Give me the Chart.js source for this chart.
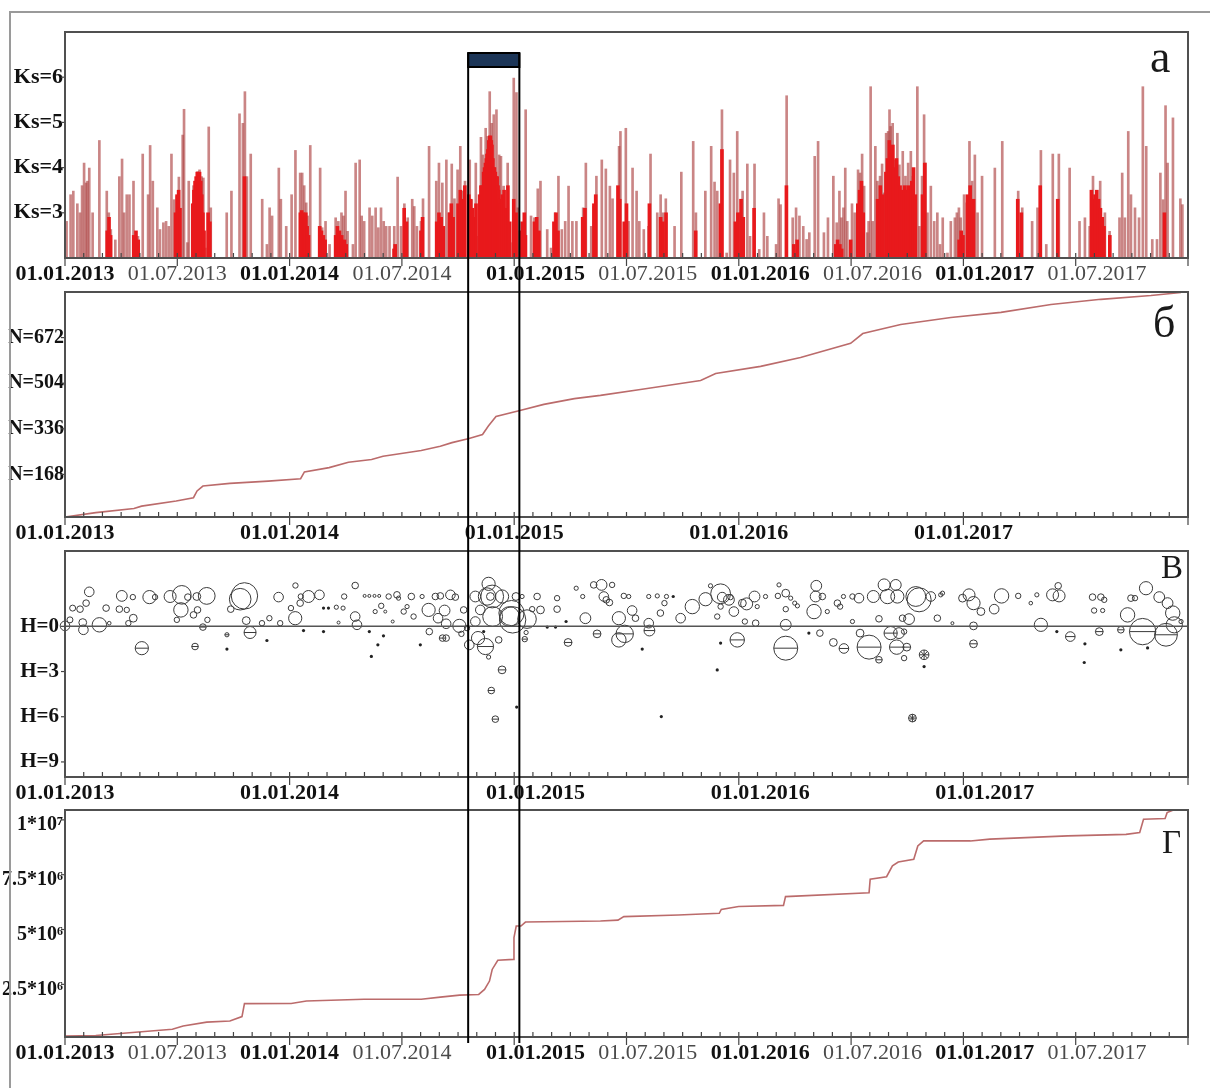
<!DOCTYPE html>
<html><head><meta charset="utf-8">
<script src="https://cdn.jsdelivr.net/npm/chart.js@4.4.1/dist/chart.umd.min.js"></script>
<style>
html,body{margin:0;padding:0;background:#fff;width:1210px;height:1088px;overflow:hidden;position:relative;}
canvas{position:absolute;left:0;display:block;}
#frame{position:absolute;left:9px;top:11px;width:1300px;height:1200px;border-left:2px solid #9a9a9a;border-top:2px solid #9a9a9a;pointer-events:none;}
</style></head><body>
<canvas id="cA" width="1210" height="290" style="top:0px"></canvas>
<canvas id="cB" width="1210" height="258" style="top:290px"></canvas>
<canvas id="cC" width="1210" height="258" style="top:548px"></canvas>
<canvas id="cD" width="1210" height="282" style="top:806px"></canvas>
<div id="frame"></div>
<script>
// ---------------- DATA ----------------
const X_MIN = 2013, X_MAX = 2018;
const yearsJan  = [2013, 2014, 2015, 2016, 2017];
const janLabels = ['01.01.2013','01.01.2014','01.01.2015','01.01.2016','01.01.2017'];
const julLabels = ['01.07.2013','01.07.2014','01.07.2015','01.07.2016','01.07.2017'];
const windowYears = [2014.795, 2015.023];   // highlighted interval

// panel a: energy class Ks of events [year, Ks]
const ksEvents = [
[2013.007,2.81],[2013.025,3.40],[2013.037,3.48],[2013.055,3.20],[2013.067,3.00],[2013.076,3.60],[2013.085,4.10],[2013.094,3.66],[2013.100,3.70],[2013.108,3.99],[2013.123,3.00],[2013.153,4.60],[2013.186,3.48],[2013.195,3.00],[2013.204,2.63],[2013.224,2.40],[2013.242,3.80],[2013.254,4.19],[2013.263,3.00],[2013.275,3.40],[2013.287,3.40],[2013.305,3.70],[2013.313,2.48],[2013.325,2.48],[2013.346,4.30],[2013.370,3.40],[2013.379,4.49],[2013.391,3.70],[2013.411,3.11],[2013.423,2.63],[2013.438,2.78],[2013.450,2.81],[2013.462,2.70],[2013.474,4.30],[2013.486,3.29],[2013.498,3.36],[2013.507,3.79],[2013.524,4.72],[2013.530,5.29],[2013.545,2.34],[2013.551,3.70],[2013.572,3.60],[2013.581,3.70],[2013.590,3.91],[2013.599,3.95],[2013.608,3.80],[2013.616,3.77],[2013.625,2.22],[2013.640,4.90],[2013.649,3.11],[2013.720,3.00],[2013.741,3.48],[2013.777,5.19],[2013.792,4.98],[2013.801,5.68],[2013.810,3.80],[2013.827,4.30],[2013.878,3.30],[2013.899,2.30],[2013.911,3.11],[2013.922,2.93],[2013.952,3.99],[2013.961,3.30],[2013.985,2.70],[2014.009,3.40],[2014.026,4.38],[2014.047,3.88],[2014.056,3.88],[2014.065,3.60],[2014.074,3.22],[2014.080,2.93],[2014.092,4.49],[2014.136,3.99],[2014.145,2.67],[2014.160,2.81],[2014.178,2.30],[2014.205,2.89],[2014.217,2.81],[2014.231,3.00],[2014.240,2.93],[2014.249,3.48],[2014.258,2.59],[2014.282,2.30],[2014.294,4.10],[2014.312,4.17],[2014.321,2.93],[2014.332,2.81],[2014.356,3.11],[2014.368,2.93],[2014.383,3.11],[2014.395,2.67],[2014.407,3.11],[2014.419,2.81],[2014.430,2.70],[2014.445,2.70],[2014.466,2.70],[2014.481,3.79],[2014.496,2.70],[2014.511,3.20],[2014.526,2.89],[2014.546,3.30],[2014.555,3.14],[2014.567,2.70],
[2014.585,2.81],[2014.594,3.31],[2014.621,4.47],[2014.653,3.70],[2014.665,4.10],[2014.680,3.66],[2014.698,4.17],[2014.710,3.00],[2014.722,4.08],[2014.734,3.31],[2014.748,3.95],[2014.760,4.47],[2014.772,3.48],[2014.781,3.70],[2014.802,4.17],[2014.811,3.29],[2014.829,4.10],[2014.840,2.48],[2014.852,4.67],[2014.861,4.28],[2014.873,4.87],[2014.882,4.69],[2014.891,5.68],[2014.900,4.98],[2014.909,5.17],[2014.921,5.28],[2014.933,4.28],[2014.941,4.25],[2014.953,3.59],[2014.971,4.10],[2014.983,2.34],[2014.998,5.98],[2015.010,5.66],[2015.016,3.11],[2015.037,2.70],[2015.051,5.28],[2015.075,2.93],[2015.090,2.89],[2015.105,3.53],[2015.117,3.70],[2015.147,2.63],[2015.164,2.22],[2015.182,3.00],[2015.197,3.81],[2015.212,2.63],[2015.227,2.81],[2015.242,3.59],[2015.259,2.81],[2015.277,2.81],[2015.307,3.11],[2015.319,4.10],[2015.343,2.70],[2015.354,3.14],[2015.366,3.81],[2015.390,4.17],[2015.408,3.97],[2015.426,3.59],[2015.438,3.31],[2015.467,4.47],[2015.473,4.80],[2015.497,4.87],[2015.509,2.81],[2015.527,3.99],[2015.545,3.48],[2015.557,2.81],[2015.577,2.63],[2015.598,2.70],[2015.607,4.30],[2015.637,3.00],[2015.652,3.40],[2015.663,3.00],[2015.675,3.31],[2015.714,2.70],[2015.744,3.90],[2015.797,4.58],[2015.809,3.00],[2015.851,3.48],[2015.877,4.47],[2015.892,3.68],[2015.904,3.48],[2015.925,5.28],[2015.946,2.11],[2015.961,4.17],[2015.978,3.88],[2015.993,4.80],[2016.005,3.00],[2016.017,3.48],[2016.038,4.08],[2016.050,2.48],[2016.070,4.08],[2016.091,2.19],[2016.112,3.00],[2016.127,2.48],[2016.166,2.30],[2016.177,3.31],[2016.186,3.18],[2016.213,5.59],[2016.240,2.89],[2016.255,3.11],[2016.270,2.93],[2016.287,2.70],[2016.302,2.41],[2016.314,2.56],[2016.338,4.25],[2016.353,4.58],
[2016.379,2.56],[2016.397,2.89],[2016.421,3.81],[2016.436,2.78],[2016.448,3.48],[2016.457,2.89],[2016.466,3.11],[2016.474,3.99],[2016.483,2.81],[2016.504,3.20],[2016.516,3.00],[2016.531,3.95],[2016.540,3.88],[2016.549,4.30],[2016.558,3.59],[2016.572,2.56],[2016.578,2.81],[2016.587,5.79],[2016.596,2.81],[2016.608,4.47],[2016.617,3.70],[2016.629,3.81],[2016.638,4.08],[2016.647,3.44],[2016.656,4.76],[2016.665,4.80],[2016.671,5.28],[2016.676,4.91],[2016.685,4.98],[2016.694,4.17],[2016.706,4.76],[2016.715,4.06],[2016.730,4.36],[2016.742,3.81],[2016.754,4.10],[2016.766,4.36],[2016.775,3.81],[2016.786,3.00],[2016.795,5.79],[2016.804,2.70],[2016.816,3.81],[2016.825,5.17],[2016.831,4.10],[2016.840,3.00],[2016.855,3.59],[2016.870,2.81],[2016.884,3.00],[2016.896,2.30],[2016.908,2.89],[2016.929,2.11],[2016.944,2.81],[2016.962,2.89],[2016.971,3.00],[2016.980,3.11],[2016.988,2.89],[2017.003,3.40],[2017.015,3.22],[2017.027,4.58],[2017.039,3.70],[2017.051,4.28],[2017.063,3.00],[2017.083,3.81],[2017.140,3.99],[2017.173,4.58],[2017.244,3.48],[2017.262,3.11],[2017.306,2.81],[2017.330,3.11],[2017.345,4.38],[2017.369,2.30],[2017.398,4.30],[2017.425,4.30],[2017.473,3.99],[2017.517,2.81],[2017.541,2.89],[2017.562,2.70],[2017.577,3.81],[2017.592,3.31],[2017.609,3.70],[2017.630,3.00],[2017.651,2.59],[2017.695,2.89],[2017.707,3.88],[2017.719,2.89],[2017.734,4.80],[2017.746,3.40],[2017.764,3.11],[2017.782,2.89],[2017.799,5.79],[2017.814,4.47],[2017.841,2.41],[2017.862,2.41],[2017.877,3.88],[2017.889,3.29],[2017.900,5.37],[2017.909,4.10],[2017.933,5.10],[2017.966,3.31],[2017.975,3.18]
];
// panel a: dense swarm events (bright red mass) [year, Ks]
const swarmEvents = [
[2013.188,2.6],[2013.196,2.9],[2013.203,2.5],[2013.306,2.5],[2013.316,2.6],[2013.326,2.4],[2013.492,3.0],[2013.499,3.4],[2013.506,3.5],[2013.512,3.1],
[2013.569,3.2],[2013.574,3.5],[2013.579,3.7],[2013.584,3.8],[2013.589,3.9],[2013.594,3.8],[2013.599,3.9],[2013.604,3.7],[2013.609,3.4],[2013.614,3.0],[2013.619,2.6],
[2013.637,3.0],[2013.645,2.8],[2013.799,3.8],
[2014.048,3.0],[2014.054,3.05],[2014.060,3.0],[2014.066,2.9],[2014.072,3.0],[2014.078,2.7],[2014.084,2.5],
[2014.134,2.7],[2014.142,2.6],[2014.150,2.5],[2014.158,2.4],
[2014.205,2.5],[2014.213,2.7],[2014.222,2.6],[2014.232,2.5],[2014.244,2.4],[2014.252,2.3],
[2014.465,2.2],[2014.470,2.3],[2014.510,3.1],[2014.520,2.8],
[2014.585,2.6],[2014.592,2.9],[2014.655,2.8],[2014.665,3.0],[2014.675,2.9],[2014.684,2.7],[2014.712,3.0],[2014.720,3.2],[2014.728,2.9],[2014.750,3.2],[2014.760,3.5],[2014.770,3.3],[2014.780,3.6],
[2014.798,3.4],[2014.806,3.3],[2014.814,3.1],[2014.822,2.9],[2014.830,3.2],
[2014.846,3.4],[2014.852,3.6],[2014.857,3.6],[2014.864,3.9],[2014.868,4.0],[2014.872,4.1],[2014.876,4.2],[2014.879,4.3],[2014.883,4.4],[2014.887,4.6],[2014.891,4.7],[2014.894,4.7],[2014.898,4.6],[2014.901,4.5],[2014.905,4.2],[2014.909,4.0],[2014.912,4.0],[2014.916,3.9],[2014.920,3.8],[2014.924,3.8],[2014.928,3.6],[2014.931,3.5],[2014.935,3.3],[2014.939,3.2],
[2014.947,3.4],[2014.955,3.5],[2014.963,3.1],[2014.972,3.6],[2014.980,2.8],[2014.998,3.3],[2015.008,3.0],
[2015.028,2.6],[2015.036,2.8],[2015.045,3.0],[2015.050,2.5],[2015.090,2.8],[2015.100,2.9],[2015.110,2.6],[2015.177,2.8],[2015.186,3.0],[2015.195,2.6],[2015.305,2.9],[2015.315,3.1],[2015.355,3.2],[2015.363,3.4],
[2015.462,3.6],[2015.470,3.3],[2015.490,2.8],[2015.500,3.2],[2015.602,3.2],[2015.652,2.9],[2015.662,2.8],[2015.676,3.0],[2015.808,2.6],[2015.918,3.2],[2015.925,4.4],[2015.985,2.8],[2015.996,3.0],[2016.010,3.3],[2016.020,2.9],[2016.068,3.1],[2016.212,3.6],[2016.245,2.3],[2016.260,2.4],
[2016.432,2.3],[2016.440,2.4],[2016.450,2.3],[2016.458,2.2],[2016.498,2.4],[2016.530,3.2],[2016.538,3.5],[2016.546,3.7],[2016.554,3.0],[2016.618,3.3],[2016.630,3.6],[2016.640,3.4],
[2016.655,3.9],[2016.662,4.2],[2016.670,4.6],[2016.678,4.3],[2016.686,4.5],[2016.694,4.0],[2016.702,4.2],[2016.710,3.8],[2016.718,3.6],
[2016.730,3.5],[2016.738,3.6],[2016.746,3.5],[2016.754,3.6],[2016.762,3.5],[2016.770,3.7],[2016.778,4.0],[2016.786,3.4],[2016.818,3.4],[2016.828,4.1],
[2016.981,2.4],[2016.990,2.6],[2016.998,2.5],[2017.018,3.4],[2017.030,3.6],[2017.045,3.3],[2017.242,3.3],[2017.258,3.0],[2017.342,3.6],[2017.420,3.3],
[2017.570,3.5],[2017.578,3.3],[2017.586,3.4],[2017.594,3.5],[2017.602,3.3],[2017.610,3.1],[2017.618,2.9],[2017.626,2.7],[2017.652,2.5],[2017.895,3.0]
];
const ksTicks = [3, 4, 5, 6];
const ksTickLabels = ['Ks=3','Ks=4','Ks=5','Ks=6'];

// panel б: cumulative number of events [year, N]
const cumCount = [
[2013.000,11],[2013.137,27],[2013.307,42],[2013.341,51],[2013.495,70],[2013.572,82],[2013.588,107],[2013.614,125],[2013.734,135],[2013.905,143],[2014.049,152],[2014.066,177],[2014.176,193],[2014.262,213],[2014.365,223],[2014.416,235],[2014.586,256],[2014.671,272],[2014.723,285],[2014.799,300],[2014.859,315],[2014.885,346],[2014.919,381],[2015.030,404],[2015.132,426],[2015.268,447],[2015.384,459],[2015.562,481],[2015.830,514],[2015.897,540],[2016.097,566],[2016.275,599],[2016.498,651],[2016.552,687],[2016.721,720],[2016.944,746],[2017.167,765],[2017.390,794],[2017.612,813],[2017.835,827],[2017.969,838]
];
const nTicks = [168, 336, 504, 672];
const nTickLabels = ['N=168','N=336','N=504','N=672'];

// panel в: hypocentre depth H and energy class K: [year, H, K]
const openCircles = [
[2013.000,-0.03,3.6],[2013.022,-0.43,3.0],[2013.034,-1.21,3.0],[2013.067,-1.14,3.1],[2013.079,-0.25,3.3],[2013.082,0.23,3.6],[2013.094,-1.54,3.1],[2013.108,-2.29,3.6],[2013.153,-0.10,4.4],[2013.183,-1.21,3.1],[2013.197,-0.21,2.6],[2013.242,-1.14,3.1],[2013.253,-2.02,3.8],[2013.275,-1.09,2.9],[2013.282,-0.21,2.9],[2013.302,-1.94,2.9],[2013.304,-0.54,3.3],[2013.376,-1.94,4.2],[2013.401,-1.94,2.9],[2013.468,-1.98,4.0],[2013.498,-0.43,2.9],[2013.520,-2.09,5.1],[2013.516,-1.09,4.4],[2013.547,-1.94,3.1],[2013.572,-0.76,3.1],[2013.587,-1.98,3.3],[2013.590,-1.09,3.1],[2013.631,-2.02,4.8],[2013.634,-0.43,2.9],[2013.738,-1.14,3.1],[2013.799,-2.02,6.4],[2013.780,-1.80,5.6],[2013.807,-0.38,3.3],[2013.877,-0.21,2.9],[2013.910,-0.54,2.9],[2013.951,-1.94,3.6],[2013.958,-0.21,2.9],[2014.006,-1.21,2.9],[2014.025,-0.54,4.2],[2014.026,-2.71,2.9],[2014.047,-1.54,3.1],[2014.050,-1.98,2.9],[2014.084,-1.98,4.0],[2014.133,-2.09,3.6],[2014.208,-1.27,2.7],[2014.218,-0.25,2.5],[2014.238,-1.21,2.7],[2014.243,-1.98,2.9],[2014.292,-2.71,3.1],[2014.292,-0.65,3.6],[2014.300,-0.10,3.6],
[2014.334,-2.02,2.5],[2014.355,-2.02,2.5],[2014.378,-2.02,2.5],[2014.399,-2.02,2.5],[2014.381,-0.98,2.7],[2014.408,-1.36,2.9],[2014.426,-0.98,2.5],[2014.441,-1.98,2.9],[2014.459,-0.32,2.5],[2014.478,-2.09,3.1],[2014.485,-1.87,2.7],[2014.508,-0.98,2.9],[2014.523,-1.31,2.7],[2014.542,-1.98,3.1],[2014.552,-0.65,2.9],[2014.590,-1.98,2.7],[2014.619,-1.09,4.2],[2014.622,0.35,3.1],[2014.649,-1.98,3.1],[2014.661,-0.54,3.6],[2014.671,-2.02,3.1],[2014.690,-1.05,3.8],[2014.697,-0.17,3.6],[2014.697,0.78,3.1],[2014.716,-2.09,3.6],[2014.738,-1.94,3.1],[2014.756,-0.03,4.2],[2014.765,0.50,2.9],[2014.775,-1.09,3.1],[2014.790,0.12,2.9],[2014.800,1.23,3.6],[2014.827,-1.98,3.8],[2014.827,-0.32,3.6],[2014.839,0.78,4.2],[2014.849,-1.09,3.6],[2014.879,-1.98,4.9],[2014.886,-2.82,4.2],[2014.894,-1.98,3.3],[2014.902,-1.98,5.8],[2014.904,-0.65,5.3],[2014.931,0.90,3.1],[2014.946,-1.98,4.2],[2014.886,2.04,2.7],[2014.979,-0.65,5.3],[2014.988,-0.88,6.2],[2014.993,-0.43,6.4],[2015.008,-1.98,3.3],[2015.035,-1.98,2.7],[2015.053,0.41,2.7],[2015.057,-0.48,5.1],[2015.080,-1.14,2.9],[2015.102,-1.98,3.1],[2015.117,-1.09,3.3],[2015.191,-1.87,2.9],[2015.191,-1.14,3.1],[2015.276,-2.53,2.7],[2015.305,-1.98,2.7],[2015.317,-0.54,3.8],[2015.354,-2.75,3.1],[2015.389,-2.75,3.8],[2015.399,-1.98,3.6],[2015.410,-1.76,3.1],[2015.424,-1.58,3.1],[2015.436,-2.75,2.9],[2015.466,-0.54,4.2],[2015.466,0.90,4.4],[2015.488,-2.02,2.9],[2015.510,-1.98,2.7],[2015.525,-1.05,3.6],[2015.540,-0.54,3.1],[2015.599,-0.21,3.6],[2015.599,-1.98,2.7],
[2015.637,-2.02,2.7],[2015.669,-1.54,2.9],[2015.651,-0.88,3.1],[2015.678,-1.98,2.7],[2015.741,-0.54,3.6],[2015.793,-1.31,4.4],[2015.874,-2.69,2.7],[2015.852,-1.80,4.2],[2015.919,-2.16,5.3],[2015.926,-1.94,3.6],[2015.956,-1.76,3.8],[2015.904,-0.65,2.9],[2015.919,-1.31,2.9],[2015.978,-0.98,3.6],[2015.963,-1.94,2.9],[2016.016,-1.54,3.3],[2016.035,-1.49,4.0],[2016.027,-0.32,2.9],[2016.070,-1.98,3.8],[2016.082,-1.31,2.7],[2016.075,-0.21,3.1],[2016.119,-1.98,2.7],[2016.179,-2.75,2.7],[2016.174,-2.02,2.9],[2016.209,-2.20,3.3],[2016.231,-1.87,2.7],[2016.209,-1.14,2.9],[2016.209,-0.10,3.8],[2016.249,-1.54,2.7],[2016.261,-1.36,2.7],[2016.335,-0.98,4.4],[2016.345,-2.69,3.8],[2016.342,-1.98,3.8],[2016.361,0.45,3.1],[2016.372,-1.98,3.1],[2016.394,-0.98,2.7],[2016.421,1.07,3.3],[2016.439,-1.54,3.1],[2016.451,-1.31,2.9],[2016.466,-1.98,2.7],[2016.506,-1.98,2.9],[2016.506,-0.32,2.7],[2016.535,-1.87,3.6],[2016.540,0.45,3.3],[2016.599,-1.98,4.0],[2016.624,-0.50,3.1],[2016.647,-2.75,4.0],[2016.662,-1.98,4.4],[2016.699,-2.75,3.8],[2016.706,-1.98,4.2],[2016.713,0.45,3.8],[2016.736,2.11,2.9],[2016.736,0.35,2.9],[2016.758,-0.48,3.8],[2016.729,-0.54,3.1],[2016.803,-1.76,6.0],[2016.788,-1.98,5.3],[2016.884,-0.54,3.1],[2016.899,-2.09,2.7],
[2016.855,-1.98,3.6],[2016.907,-2.20,2.7],[2016.996,-1.87,3.3],[2017.025,-2.09,4.0],[2017.045,-1.54,4.2],[2017.078,-0.98,3.3],[2017.045,-0.03,3.3],[2016.951,-0.21,2.5],[2017.137,-1.14,3.6],[2017.170,-2.02,4.4],[2017.244,-2.02,2.9],[2017.300,-1.54,2.6],[2017.327,-2.09,2.7],[2017.345,-0.10,4.2],[2017.397,-2.09,4.0],[2017.422,-2.69,3.1],[2017.426,-2.02,4.0],[2017.575,-1.94,3.1],[2017.582,-1.05,2.9],[2017.612,-1.94,3.1],[2017.627,-1.76,2.9],[2017.620,-1.05,2.7],[2017.731,-0.76,4.4],[2017.746,-1.87,3.1],[2017.764,-1.87,2.9],[2017.813,-2.53,4.2],[2017.872,-1.94,3.8],[2017.909,-1.54,3.8],[2017.932,-0.88,4.4],[2017.939,-0.10,4.7],[2017.969,-0.32,2.7]
];
const lineCircles = [
[2013.342,1.45,4.2],[2013.579,1.34,3.1],[2013.614,0.05,3.1],[2013.824,0.41,4.0],[2013.721,0.56,2.7],[2014.681,0.78,3.1],[2014.872,1.34,4.7],[2014.946,2.89,3.3],[2014.898,4.26,3.1],[2014.916,6.16,3.1],[2015.047,0.85,2.9],[2015.240,1.07,3.3],[2015.369,0.50,3.3],[2015.492,0.50,4.9],[2015.602,0.28,3.8],[2015.993,0.90,4.4],[2016.209,1.45,6.0],[2016.468,1.47,3.6],[2016.580,1.38,6.0],[2016.624,2.22,3.1],[2016.676,0.45,4.2],[2016.703,1.38,4.4],[2016.748,1.38,3.3],[2017.045,1.16,3.3],[2017.476,0.68,3.6],[2017.605,0.35,3.3],[2017.701,0.23,3.1],[2017.798,0.35,6.4],[2017.902,0.56,5.8]
];
const starCircles = [[2016.825,1.89,3.6],[2016.773,6.09,3.3]];
const smallEvents = [
[2013.721,1.51],[2013.899,0.94],[2014.062,0.28],[2014.151,0.35],[2014.151,-1.21],[2014.173,-1.21],[2014.355,0.35],[2014.364,2.00],[2014.418,0.63],[2014.393,1.23],[2014.582,1.23],[2014.864,0.35],[2015.011,5.36],[2015.147,0.05],[2015.184,0.05],[2015.231,-0.32],[2015.570,1.51],[2015.655,5.99],[2015.708,-1.98],[2015.919,1.11],[2015.904,2.89],[2016.312,0.45],[2016.825,2.67],[2017.416,0.35],[2017.538,2.40],[2017.541,1.16],[2017.701,1.56],[2017.820,1.43]
];
const hTicks = [0, 3, 6, 9];
const hTickLabels = ['H=0','H=3','H=6','H=9'];

// panel г: cumulative energy, units of 10^6 [year, E]
const cumEnergy = [
[2013.000,0.14],[2013.137,0.17],[2013.341,0.34],[2013.478,0.45],[2013.526,0.60],[2013.631,0.78],[2013.734,0.83],[2013.788,1.03],[2013.799,1.62],[2014.007,1.63],[2014.075,1.74],[2014.331,1.82],[2014.586,1.82],[2014.671,1.92],[2014.757,2.01],[2014.842,2.04],[2014.868,2.27],[2014.890,2.65],[2014.902,3.18],[2014.927,3.60],[2014.996,3.64],[2014.999,4.63],[2015.009,5.16],[2015.030,5.16],[2015.050,5.34],[2015.384,5.39],[2015.462,5.43],[2015.488,5.59],[2015.731,5.66],[2015.913,5.74],[2015.922,5.92],[2015.999,6.05],[2016.199,6.10],[2016.208,6.50],[2016.580,6.68],[2016.585,7.29],[2016.658,7.41],[2016.684,7.90],[2016.710,8.08],[2016.779,8.20],[2016.797,8.81],[2016.823,9.04],[2017.031,9.04],[2017.118,9.12],[2017.464,9.27],[2017.724,9.34],[2017.785,9.42],[2017.802,10.03],[2017.898,10.06],[2017.907,10.33],[2017.932,10.44],[2017.990,10.46]
];
const eTicks = [2.5, 5, 7.5, 10];
const eTickLabels = ['2.5*10\u2076','5*10\u2076','7.5*10\u2076','1*10\u2077'];

// ---------------- RENDERING ----------------
const SERIF = '"Liberation Serif","Times New Roman",serif';
const LABEL_SHIFT = 0.095; // reference places date labels from 2015 on slightly right of their ticks
Chart.defaults.font.family = SERIF;
Chart.defaults.color = '#111';
Chart.defaults.animation = false;
Chart.defaults.events = [];
Chart.defaults.plugins.legend.display = false;
Chart.defaults.plugins.tooltip.enabled = false;

const MONTHS = [];
for (let m = 0; m <= 60; m++) MONTHS.push(X_MIN + m / 12);

function dateTicks(withJuly, shifted) {
  const out = [];
  yearsJan.forEach((y, i) => {
    const sh = (shifted && y >= 2015) ? LABEL_SHIFT : 0;
    out.push({v: y + sh, text: janLabels[i], bold: true});
    if (withJuly) out.push({v: y + 0.5 + sh, text: julLabels[i], bold: false});
  });
  return out;
}

function xAxis(list, height) {
  return {
    type: 'linear', min: X_MIN, max: X_MAX, offset: false,
    grid: {display: false, drawTicks: false}, border: {display: false},
    afterBuildTicks: s => { s.ticks = list.map(t => ({value: t.v})); },
    afterFit: s => { s.height = height; s.paddingLeft = 0; s.paddingRight = 0; },
    ticks: {
      autoSkip: false, maxRotation: 0, minRotation: 0, padding: 3,
      callback: (v, i) => list[i] ? list[i].text : '',
      font: c => ({family: SERIF, size: 22, weight: (list[c.index] && list[c.index].bold) ? 'bold' : 'normal'}),
      color: c => (list[c.index] && list[c.index].bold) ? '#111' : '#4a4a4a'
    }
  };
}
function yAxis(min, max, vals, labels, size, pad, reverse, labelOffset) {
  return {
    type: 'linear', min, max, reverse: !!reverse,
    grid: {display: false, drawTicks: false}, border: {display: false},
    afterBuildTicks: s => { s.ticks = vals.map(v => ({value: v})); },
    afterFit: s => { s.width = 65; s.paddingTop = 0; s.paddingBottom = 0; },
    ticks: {padding: pad, autoSkip: false, labelOffset: labelOffset || 0, callback: (v, i) => labels[i],
            font: {family: SERIF, size, weight: 'bold'}, color: '#111'}
  };
}

const decor = {
  id: 'decor',
  afterDraw(chart, args, o) {
    const {ctx, chartArea: a} = chart;
    const xs = chart.scales.x, ys = chart.scales.y;
    ctx.save();
    if (o.zeroLine) {
      const y = ys.getPixelForValue(0);
      ctx.strokeStyle = '#555'; ctx.lineWidth = 1.5;
      ctx.beginPath(); ctx.moveTo(a.left, y); ctx.lineTo(a.right, y); ctx.stroke();
    }
    ctx.strokeStyle = '#444'; ctx.lineWidth = 1.2;
    MONTHS.forEach((v, m) => {
      const x = xs.getPixelForValue(v);
      const long = o.longTicks.includes(m % 12);
      ctx.beginPath(); ctx.moveTo(x, a.bottom - 5); ctx.lineTo(x, a.bottom + (long ? 8 : 0)); ctx.stroke();
    });
    ys.ticks.forEach(t => {
      const y = ys.getPixelForValue(t.value);
      ctx.beginPath(); ctx.moveTo(a.left - 4, y); ctx.lineTo(a.left, y); ctx.stroke();
    });
    ctx.strokeStyle = '#505050'; ctx.lineWidth = 2;
    ctx.strokeRect(a.left, a.top, a.right - a.left, a.bottom - a.top);
    ctx.fillStyle = '#1a1a1a'; ctx.font = o.letterFont; ctx.textAlign = 'left'; ctx.textBaseline = 'alphabetic';
    ctx.fillText(o.letter, o.letterX, o.letterY);
    const x1 = xs.getPixelForValue(windowYears[0]), x2 = xs.getPixelForValue(windowYears[1]);
    ctx.strokeStyle = '#000'; ctx.lineWidth = 2;
    if (o.cap) {
      ctx.fillStyle = '#1c3557';
      ctx.fillRect(x1, o.cap[0], x2 - x1, o.cap[1] - o.cap[0]);
      ctx.strokeRect(x1, o.cap[0], x2 - x1, o.cap[1] - o.cap[0]);
    }
    [x1, x2].forEach(x => { ctx.beginPath(); ctx.moveTo(x, o.lineTop); ctx.lineTo(x, o.lineBottom); ctx.stroke(); });
    ctx.restore();
  }
};

const pts2 = arr => arr.map(([x, y]) => ({x, y}));
const radius = k => (k - 2) * 3;
const pts3 = arr => arr.map(([x, y, k]) => ({x, y, r: radius(k)}));
const CURVE = '#bb6b6b';

// panel а
new Chart(document.getElementById('cA'), {
  type: 'bar',
  data: {datasets: [
    {data: pts2(swarmEvents), backgroundColor: '#e8191c', barThickness: 3, grouped: false, base: 2, order: 0},
    {data: pts2(ksEvents), backgroundColor: 'rgba(175,70,70,0.66)', barThickness: 2, grouped: false, base: 2, order: 1}
  ]},
  options: {
    responsive: false, devicePixelRatio: 1,
    layout: {autoPadding: false, padding: {top: 32, right: 22, left: 0, bottom: 0}},
    scales: {x: xAxis(dateTicks(true, true), 32), y: yAxis(2, 7, ksTicks, ksTickLabels, 22, 2)},
    plugins: {decor: {letter: 'а', letterFont: '46px ' + SERIF, letterX: 1150, letterY: 72,
      longTicks: [0, 6], cap: [53, 67], lineTop: 53, lineBottom: 290}}
  },
  plugins: [decor]
});

// panel б
new Chart(document.getElementById('cB'), {
  type: 'line',
  data: {datasets: [{data: pts2(cumCount), borderColor: CURVE, borderWidth: 1.6, pointRadius: 0, tension: 0}]},
  options: {
    responsive: false, devicePixelRatio: 1,
    layout: {autoPadding: false, padding: {top: 2, right: 22, left: 0, bottom: 0}},
    scales: {x: xAxis(dateTicks(false, false), 31), y: yAxis(11, 840, nTicks, nTickLabels, 20, 1)},
    plugins: {decor: {letter: 'б', letterFont: '44px ' + SERIF, letterX: 1153, letterY: 47,
      longTicks: [0], lineTop: 0, lineBottom: 258}}
  },
  plugins: [decor]
});

// panel в
const ring = {backgroundColor: 'rgba(0,0,0,0)', borderColor: '#3a3a3a', borderWidth: 1, clip: false};
new Chart(document.getElementById('cC'), {
  type: 'bubble',
  data: {datasets: [
    Object.assign({data: pts3(openCircles)}, ring),
    Object.assign({data: pts3(lineCircles)}, ring),
    Object.assign({data: pts3(lineCircles), pointStyle: 'line'}, ring),
    Object.assign({data: pts3(starCircles)}, ring),
    Object.assign({data: pts3(starCircles), pointStyle: 'star'}, ring),
    {data: smallEvents.map(([x, y]) => ({x, y, r: 1.6})), backgroundColor: '#222', borderColor: '#222', borderWidth: 0, clip: false}
  ]},
  options: {
    responsive: false, devicePixelRatio: 1,
    layout: {autoPadding: false, padding: {top: 3, right: 22, left: 0, bottom: 0}},
    scales: {x: xAxis(dateTicks(false, true), 29), y: yAxis(-5, 10, hTicks, hTickLabels, 21, 6, true)},
    plugins: {decor: {letter: 'В', letterFont: '33px ' + SERIF, letterX: 1161, letterY: 30, zeroLine: true,
      longTicks: [0], lineTop: 0, lineBottom: 258}}
  },
  plugins: [decor]
});

// panel г
new Chart(document.getElementById('cD'), {
  type: 'line',
  data: {datasets: [{data: pts2(cumEnergy), borderColor: CURVE, borderWidth: 1.6, pointRadius: 0, tension: 0}]},
  options: {
    responsive: false, devicePixelRatio: 1,
    layout: {autoPadding: false, padding: {top: 4, right: 22, left: 0, bottom: 0}},
    scales: {x: xAxis(dateTicks(true, true), 51), y: yAxis(0.1, 10.45, eTicks, eTickLabels, 20, 2, false, 5)},
    plugins: {decor: {letter: 'Г', letterFont: '33px ' + SERIF, letterX: 1162, letterY: 47,
      longTicks: [0, 6], lineTop: 0, lineBottom: 237}}
  },
  plugins: [decor]
});
</script>
</body></html>
